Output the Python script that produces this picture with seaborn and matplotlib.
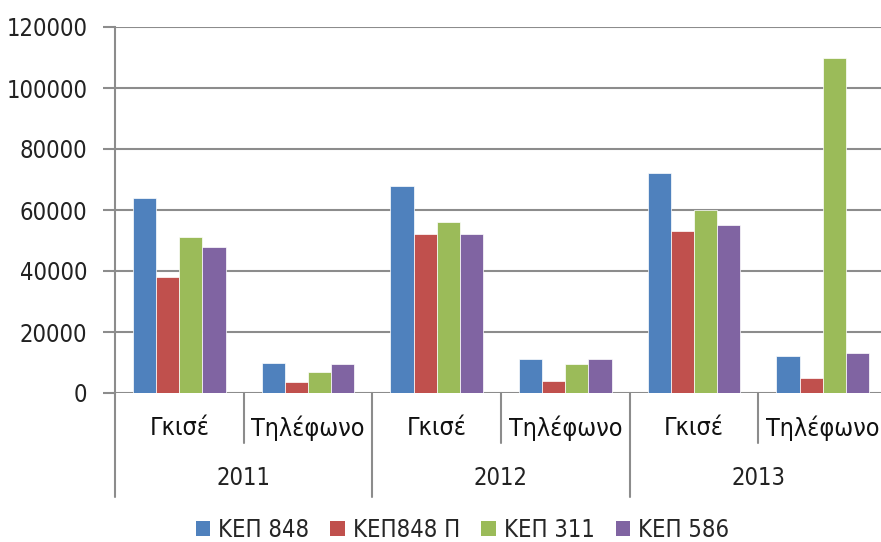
import numpy as np
import pandas as pd
import seaborn as sns
import matplotlib.pyplot as plt
from matplotlib.patches import Patch
import matplotlib.transforms as mtransforms

# data
years = ['2011', '2012', '2013']
channels = ['Γκισέ', 'Τηλέφωνο']
series = ['ΚΕΠ 848', 'ΚΕΠ848 Π', 'ΚΕΠ 311', 'ΚΕΠ 586']
kep848 = [64000, 10000, 68000, 11000, 72000, 12000]
kep848p = [38000, 3600, 52000, 4000, 53000, 4800]
kep311 = [51000, 7000, 56000, 9600, 60000, 110000]
kep586 = [48000, 9600, 52000, 11000, 55000, 13000]
colors = ['#4F81BD', '#C0504D', '#9BBB59', '#8064A2']
yticks = [0, 20000, 40000, 60000, 80000, 100000, 120000]

cats = [y + ' ' + c for y in years for c in channels]
rows = []
for name, vals in zip(series, [kep848, kep848p, kep311, kep586]):
    for cat, v in zip(cats, vals):
        rows.append({'cat': cat, 'series': name, 'value': v})
df = pd.DataFrame(rows)

sns.set_style('white')
plt.rcParams['font.family'] = ['DejaVu Sans']
plt.rcParams['font.stretch'] = 'condensed'
grid_col = '#8c8c8c'

fig = plt.figure(figsize=(8.81, 5.42), dpi=100)
ax = fig.add_axes([115 / 881, 1 - 393 / 542, 772 / 881, 366 / 542])

sns.barplot(data=df, x='cat', y='value', hue='series', order=cats,
            hue_order=series, palette=colors, width=0.72, ax=ax,
            edgecolor='white', linewidth=0.5, legend=False, saturation=1)

ax.set_ylim(0, 120000)
ax.set_xlim(-0.5, len(cats) - 0.5)
ax.set_yticks(yticks)
ax.set_yticklabels([str(t) for t in yticks], fontsize=17, color='#222222')
ax.yaxis.grid(True, color=grid_col, linewidth=1.5)
ax.set_axisbelow(True)
ax.tick_params(axis='y', length=9, width=1.5, color=grid_col, pad=11, left=True)
ax.set_xticks([])
ax.set_xlabel('')
ax.set_ylabel('')
for s in ['top', 'right', 'bottom']:
    ax.spines[s].set_visible(False)
ax.spines['left'].set_color(grid_col)
ax.spines['left'].set_linewidth(1.5)

# two-level category axis
trans = mtransforms.blended_transform_factory(ax.transData, fig.transFigure)
y0 = 1 - 393 / 542
y_short = 1 - 443 / 542
y_long = 1 - 497 / 542
for i in range(len(cats) + 1):
    x = i - 0.5
    yb = y_long if i % 2 == 0 else y_short
    ax.plot([x, x], [y0, yb], transform=trans, color=grid_col, lw=1.5,
            clip_on=False)
for i, cat in enumerate(cats):
    ax.text(i, 1 - 428 / 542, channels[i % 2], transform=trans, ha='center',
            va='center', fontsize=18, color='#111111')
for j, yr in enumerate(years):
    ax.text(2 * j + 0.5, 1 - 478 / 542, yr, transform=trans, ha='center',
            va='center', fontsize=17, color='#222222')

handles = [Patch(facecolor=c, edgecolor='none') for c in colors]
fig.legend(handles, series, loc='center', bbox_to_anchor=(0.525, 1 - 530 / 542),
           ncol=4, frameon=False, fontsize=17, handlelength=0.6,
           handleheight=0.6, handletextpad=0.35, columnspacing=0.9,
           borderpad=0)

fig.savefig('out.png', dpi=100)
